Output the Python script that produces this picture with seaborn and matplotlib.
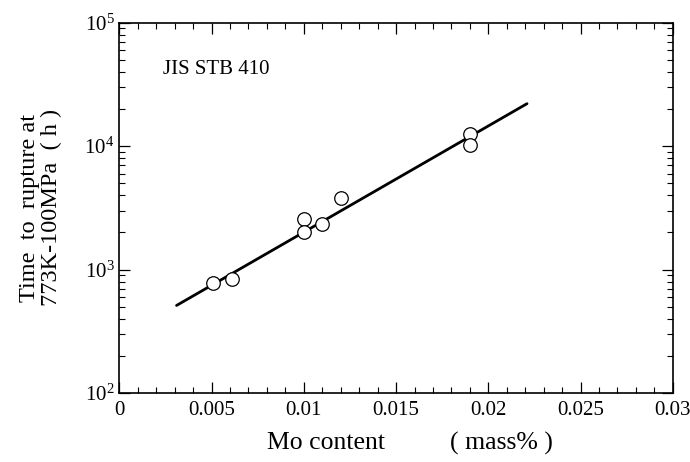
import matplotlib
matplotlib.use('Agg')
import matplotlib.pyplot as plt
import numpy as np
import pandas as pd
import seaborn as sns
from matplotlib import ticker

# measured points (Mo content, time to rupture)
mo_content = [0.0051, 0.0061, 0.0100, 0.0100, 0.0110, 0.0120, 0.0190, 0.0190]
rupture_time = [780, 836, 2577, 2009, 2350, 3810, 12650, 10190]

# regression line end points
fit_x = [0.0031, 0.0221]
fit_y = [513, 22080]

sns.set_style('ticks')
plt.rcParams['font.family'] = ['Liberation Serif', 'DejaVu Serif']
plt.rcParams['mathtext.fontset'] = 'stix'
plt.rcParams['text.color'] = 'black'
plt.rcParams['axes.labelcolor'] = 'black'

fig = plt.figure(figsize=(6.9, 4.62), dpi=100)
ax = fig.add_axes([0.173, 0.149, 0.802, 0.802])

pts = pd.DataFrame({'mo': mo_content, 'time': rupture_time})
fit = pd.DataFrame({'mo': fit_x, 'time': fit_y})

sns.lineplot(data=fit, x='mo', y='time', color='black', linewidth=2.0, ax=ax)
sns.scatterplot(data=pts, x='mo', y='time', s=95, facecolor='white',
                edgecolor='black', linewidth=0.9, zorder=3, ax=ax)

ax.set_yscale('log')
ax.set_xlim(0, 0.03)
ax.set_ylim(1e2, 1e5)
ax.xaxis.set_major_locator(ticker.MultipleLocator(0.005))
ax.xaxis.set_minor_locator(ticker.MultipleLocator(0.001))
ax.xaxis.set_major_formatter(ticker.FuncFormatter(lambda v, p: '0' if v == 0 else ('%g' % v)))
ax.yaxis.set_major_locator(ticker.LogLocator(base=10))
ax.yaxis.set_minor_locator(ticker.LogLocator(base=10, subs=np.arange(2, 10)))
ax.yaxis.set_minor_formatter(ticker.NullFormatter())

ax.tick_params(which='both', direction='in', top=True, right=True, colors='black',
               labelsize=15)
ax.tick_params(axis='x', which='major', pad=6)
ax.tick_params(which='major', length=8, width=0.9)
ax.tick_params(which='minor', length=4, width=0.8)
for s in ax.spines.values():
    s.set_linewidth(1.2)
    s.set_color('black')

ax.set_xlabel('Mo content          ( mass% )', fontsize=18.5)
ax.xaxis.set_label_coords(0.525, -0.104)
ax.set_ylabel('Time  to  rupture at\n773K-100MPa  ( h )', fontsize=17.5,
              linespacing=1.1)
ax.yaxis.set_label_coords(-0.103, 0.5)
ax.text(0.079, 0.873, 'JIS STB 410', transform=ax.transAxes, fontsize=15,
        va='center', ha='left')

fig.savefig('out.png', dpi=100)
